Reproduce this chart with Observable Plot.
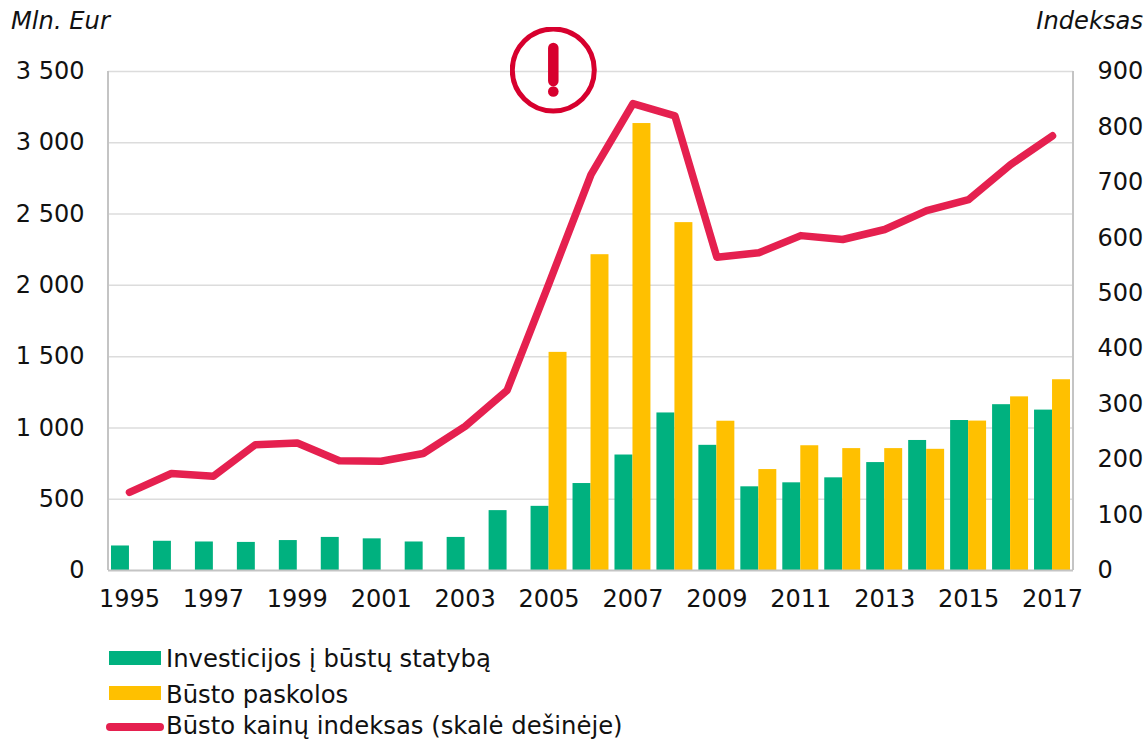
<!DOCTYPE html>
<html lang="lt">
<head>
<meta charset="utf-8">
<script src="https://cdn.jsdelivr.net/npm/d3@7"></script>
<script src="https://cdn.jsdelivr.net/npm/@observablehq/plot@0.6"></script>
<style>
html,body{margin:0;padding:0;background:#fff;overflow:hidden;}
#wrap{position:relative;width:1147px;height:739px;font-family:"DejaVu Sans",sans-serif;color:#111;}
#chart{position:absolute;left:0;top:0;}
.unit{position:absolute;top:7px;font-size:24.2px;font-style:italic;line-height:28px;white-space:nowrap;}
.row{position:absolute;left:0;font-size:24.3px;line-height:28px;white-space:nowrap;}
.row span{position:absolute;left:166px;top:0;}
.row i{position:absolute;display:block;}
#icon{position:absolute;left:510px;top:27px;}
</style>
</head>
<body>
<div id="wrap">
  <div id="chart"></div>
  <div class="unit" style="left:11px">Mln. Eur</div>
  <div class="unit" style="right:4px">Indeksas</div>
  <svg id="icon" width="87" height="87" viewBox="0 0 87 87">
    <circle cx="43.3" cy="43" r="41" fill="none" stroke="#d7002e" stroke-width="5"/>
    <line x1="43.3" y1="21" x2="43.3" y2="54" stroke="#d7002e" stroke-width="10.5" stroke-linecap="round"/>
    <circle cx="43.3" cy="64.5" r="5.3" fill="#d7002e"/>
  </svg>
  <div class="row" style="top:645px"><i style="left:109px;top:6px;width:52px;height:14px;background:#00b17f"></i><span>Investicijos į būstų statybą</span></div>
  <div class="row" style="top:681px"><i style="left:109px;top:5px;width:52px;height:14px;background:#ffc000"></i><span>Būsto paskolos</span></div>
  <div class="row" style="top:712px"><i style="left:106px;top:11px;width:58px;height:8px;border-radius:4px;background:#e5204f"></i><span>Būsto kainų indeksas (skalė dešinėje)</span></div>
</div>
<script>
const years = [1995,1996,1997,1998,1999,2000,2001,2002,2003,2004,2005,2006,2007,2008,2009,2010,2011,2012,2013,2014,2015,2016,2017];
const investicijos = [172,205,200,197,210,232,222,200,232,420,450,610,810,1105,878,587,615,650,757,912,1052,1163,1125];
const paskolos = [null,null,null,null,null,null,null,null,null,null,1530,2215,3135,2440,1047,708,875,855,855,850,1048,1218,1338];
const indeksas = [141,175,170,227,230,198,197,211,260,325,518,714,842,820,565,573,604,597,615,649,669,732,784];
const leftTicks = [0,500,1000,1500,2000,2500,3000,3500];
const rightTicks = [0,100,200,300,400,500,600,700,800,900];
const xLabels = [1995,1997,1999,2001,2003,2005,2007,2009,2011,2013,2015,2017];
const leftMax = 3500, rightMax = 900;
const toLeft = v => v * leftMax / rightMax;

const rows = years.map((year,i) => ({year, inv: investicijos[i], pask: paskolos[i], idx: indeksas[i]}));
const axisColor = "#c4c4c4";

const plot = Plot.plot({
  width: 1147, height: 625,
  marginLeft: 108, marginRight: 74, marginTop: 71, marginBottom: 55,
  style: {fontFamily: '"DejaVu Sans",sans-serif', fontSize: "24px", color: "#111", background: "transparent"},
  x: {type: "band", domain: years, padding: 0, round: false, label: null},
  y: {domain: [0, leftMax], label: null},
  marks: [
    Plot.ruleY(leftTicks.slice(1), {stroke: "#dcdcdc", strokeWidth: 1.5, strokeOpacity: 1}),
    Plot.barY(rows, {x: "year", y: "inv", fill: "#00b17f", insetLeft: 3, insetRight: 21}),
    Plot.barY(rows.filter(d => d.pask != null), {x: "year", y: "pask", fill: "#ffc000", insetLeft: 21, insetRight: 3}),
    Plot.ruleY([0], {stroke: axisColor, strokeWidth: 2}),
    Plot.line(rows, {x: "year", y: d => toLeft(d.idx), stroke: "#e5204f", strokeWidth: 7.5, strokeLinecap: "round", strokeLinejoin: "round", curve: "linear"}),
    Plot.axisX({ticks: xLabels, tickSize: 0, tickPadding: 19, tickFormat: d => String(d), label: null, fontSize: 24}),
    Plot.axisY({anchor: "left", ticks: leftTicks, tickSize: 0, tickPadding: 24, label: null, fontSize: 24,
      tickFormat: d => d >= 1000 ? `${Math.floor(d/1000)} ${String(d%1000).padStart(3,"0")}` : String(d)}),
    Plot.axisY({anchor: "right", ticks: rightTicks.map(toLeft), tickSize: 0, tickPadding: 24, label: null, fontSize: 24,
      tickFormat: d => String(Math.round(d * rightMax / leftMax))})
  ]
});
document.getElementById("chart").appendChild(plot);

// side frame lines drawn through the plot's own x scale range
const xr = plot.scale("x").range;
d3.select(plot).append("g").selectAll("line").data(xr).join("line")
  .attr("x1", d => d).attr("x2", d => d)
  .attr("y1", plot.scale("y").apply(leftMax)).attr("y2", plot.scale("y").apply(0))
  .attr("stroke", axisColor).attr("stroke-width", 2);
</script>
</body>
</html>
